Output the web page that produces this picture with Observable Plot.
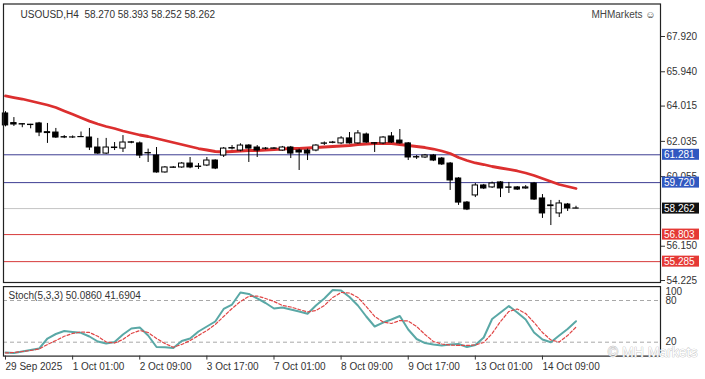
<!DOCTYPE html>
<html><head><meta charset="utf-8">
<script src="https://cdn.jsdelivr.net/npm/d3@7"></script>
<script src="https://cdn.jsdelivr.net/npm/@observablehq/plot@0.6"></script>
<style>
html,body{margin:0;padding:0;background:#fff;}
#wrap{position:relative;width:705px;height:379px;overflow:hidden;font-family:"Liberation Sans",Arial,sans-serif;}
#main,#stoch{position:absolute;left:0;}
#main{top:0;}
#stoch{top:283px;}
</style></head>
<body><div id="wrap"><div id="main"></div><div id="stoch"></div></div>
<script>
// ---- data ----
const headerText = "USOUSD,H4\u00a0 58.270 58.393 58.252 58.262";
const brandText = "MHMarkets \u263A";
const stochText = "Stoch(5,3,3) 50.0860 41.6904";
const watermarkText = "\u00A9 MH Markets";

const opens  = [63.60,63.06,63.00,62.97,63.04,62.55,62.53,62.27,62.25,62.28,62.25,61.69,61.35,61.66,61.63,61.98,61.92,61.38,61.24,60.29,60.55,60.57,60.79,60.60,60.68,60.96,61.24,61.63,61.52,61.80,61.69,61.63,61.62,61.52,61.69,61.52,61.52,61.52,61.90,61.95,61.92,62.20,61.92,62.42,61.93,61.92,62.31,62.08,61.92,61.15,61.13,61.24,61.07,60.79,59.95,58.60,59.00,59.56,59.45,59.73,59.45,59.45,59.39,59.67,58.83,58.44,57.99,58.49,58.270];
const highs  = [63.70,63.37,63.02,62.99,63.10,63.04,62.76,62.36,62.34,62.56,62.76,62.20,62.20,61.97,62.36,62.03,62.00,61.60,61.69,60.62,60.62,60.85,61.13,60.79,61.13,61.00,61.69,61.80,61.90,61.85,61.80,61.69,61.69,61.75,61.75,61.60,61.60,61.85,62.00,62.03,62.30,62.53,62.64,62.50,61.97,62.30,62.53,62.70,61.97,61.24,61.30,61.30,61.13,60.85,60.00,58.66,59.67,59.62,59.75,59.78,59.73,59.50,59.55,59.73,59.05,58.72,58.72,58.55,58.393];
const lows   = [62.85,62.87,62.80,62.74,62.30,61.92,62.20,62.19,62.20,62.26,61.52,61.30,61.30,61.52,61.41,61.90,61.07,60.85,60.25,60.25,60.52,60.52,60.50,60.46,60.62,60.45,61.13,61.55,61.45,60.85,61.13,61.55,61.58,61.48,61.07,60.40,60.96,61.45,61.80,61.90,61.85,61.88,61.88,61.92,61.41,61.85,61.92,61.88,60.96,61.02,61.07,60.90,60.68,59.28,58.44,58.15,58.88,59.33,59.39,58.88,59.11,59.28,59.35,58.72,57.71,57.31,57.76,58.10,58.252];
const closes = [62.93,62.98,62.98,62.95,62.53,62.50,62.25,62.25,62.26,62.27,61.69,61.35,61.69,61.69,61.97,61.96,61.24,61.36,60.29,60.57,60.57,60.79,60.57,60.62,60.96,60.51,61.63,61.66,61.80,61.63,61.52,61.62,61.64,61.69,61.35,61.41,61.35,61.80,61.92,61.97,62.20,61.92,62.48,61.97,61.91,62.25,61.97,61.92,61.13,61.13,61.24,60.96,60.74,59.84,58.60,58.21,59.56,59.39,59.67,59.39,59.43,59.33,59.45,58.77,57.99,58.40,58.55,58.27,58.262];
const maValues = [64.581,64.496,64.412,64.300,64.188,64.075,63.935,63.739,63.553,63.363,63.172,63.009,62.869,62.757,62.617,62.504,62.392,62.308,62.195,62.083,61.971,61.859,61.746,61.634,61.550,61.466,61.438,61.466,61.494,61.522,61.522,61.550,61.578,61.606,61.634,61.634,61.662,61.690,61.718,61.746,61.775,61.803,61.859,61.887,61.915,61.915,61.915,61.859,61.803,61.746,61.690,61.606,61.494,61.354,61.129,60.961,60.821,60.736,60.624,60.540,60.456,60.372,60.259,60.119,59.951,59.782,59.614,59.502,59.390];
const stochK = [5.2,4.5,6.6,8.8,10.9,25.3,31.8,36.1,34.7,33.5,28.2,21.0,18.1,20.3,31.1,39.7,41.2,29.6,13.1,12.8,11.7,21.7,25.3,35.4,42.6,49.8,67.8,74.2,91.5,89.4,82.9,76.4,68.5,69.9,67.1,64.2,60.9,72.8,82.9,95.1,94.4,85.0,72.8,57.0,42.6,48.3,52.7,57.7,38.3,24.6,18.8,16.7,15.3,16.7,17.4,13.1,16.0,26.8,53.4,62.7,72.1,62.7,52.7,34.0,23.9,20.0,29.6,39.0,50.1];
const stochD = [4.5,5.2,6.6,8.1,10.2,16.7,22.4,28.5,32.5,34.7,34.0,28.5,20.3,18.8,23.9,32.5,36.8,34.0,25.3,18.1,12.8,16.7,22.4,29.6,36.8,45.5,57.0,68.5,78.6,85.8,86.5,82.9,78.6,72.8,70.6,67.1,63.5,65.6,72.8,84.3,91.5,90.8,84.3,71.4,57.0,49.1,46.9,51.2,50.5,42.6,31.1,21.0,17.4,16.0,15.3,15.3,16.0,19.6,32.5,49.8,64.2,67.8,61.3,48.3,34.0,23.2,20.3,29.6,41.7];

const timeTickIndex = [0,8,16,24,32,40,48,56,64];
const timeTickLabels = ["29 Sep 2025","1 Oct 01:00","2 Oct 09:00","3 Oct 17:00","7 Oct 01:00","8 Oct 09:00","9 Oct 17:00","13 Oct 01:00","14 Oct 09:00"];
const priceTicks = [67.920,65.940,64.015,62.035,60.055,56.150,54.225];
const levelValues = [61.281,59.720,58.262,56.803,55.285];
const stochLevels = [80,20];
const stochTickLabels = [100,80,20];

// ---- styles ----
const levelLine = ["#3d3d92","#3d3d92","#c4c4c4","#d63a3a","#d63a3a"];
const levelBox  = ["#3158c0","#3158c0","#111111","#e53935","#e53935"];
const FONT = "'Liberation Sans', Arial, sans-serif";

const idx = d3.range(closes.length);
const candles = idx.map(i => ({i, o: opens[i], h: highs[i], l: lows[i], c: closes[i]}));
const levels = levelValues.map((v, k) => ({v, k}));
const xDomain = [-0.24, 78.07];

const main = Plot.plot({
  width: 705, height: 286,
  marginLeft: 3, marginRight: 45, marginTop: 3.5, marginBottom: 4,
  style: {fontFamily: FONT, fontSize: "10px", background: "transparent", color: "#333", overflow: "visible"},
  x: {domain: xDomain, axis: null},
  y: {domain: [54.114, 69.744], axis: null},
  marks: [
    ...levels.map(L => Plot.ruleY([L.v], {stroke: levelLine[L.k], strokeWidth: 1})),
    Plot.line(idx, {x: i => i, y: i => maValues[i], stroke: "#dc2f2f", strokeWidth: 2.8}),
    Plot.ruleX(candles, {x: "i", y1: "l", y2: "h", stroke: "#000", strokeWidth: 1}),
    Plot.rect(candles.filter(d => d.c >= d.o), {x1: d => d.i - 0.32, x2: d => d.i + 0.32, y1: "o", y2: "c", fill: "#fff", stroke: "#000", strokeWidth: 1}),
    Plot.rect(candles.filter(d => d.c < d.o), {x1: d => d.i - 0.32, x2: d => d.i + 0.32, y1: "o", y2: "c", fill: "#000", stroke: "#000", strokeWidth: 1}),
    Plot.frame({stroke: "#222", strokeWidth: 1.2}),
    Plot.axisY({anchor: "right", ticks: priceTicks, tickFormat: d3.format(".3f"), tickSize: 4, tickPadding: 2, fontSize: 10, stroke: "#333", fill: "#333", label: null}),
    Plot.text([headerText], {frameAnchor: "top-left", dx: 17, dy: 10.5, lineAnchor: "middle", text: d => d, textAnchor: "start", fontSize: 10, fill: "#333"}),
    Plot.text([brandText], {frameAnchor: "top-right", dx: -5, dy: 10.5, lineAnchor: "middle", text: d => d, textAnchor: "end", fontSize: 10, fill: "#444"})
  ]
});
document.getElementById("main").appendChild(main);

// coloured price labels on the right axis, positioned through Plot's y scale
const ys = main.scale("y");
const gLab = d3.select(main).append("g").attr("text-anchor", "start");
levels.forEach(L => {
  const y = ys.apply(L.v);
  gLab.append("rect").attr("x", 662).attr("y", y - 5.5).attr("width", 37).attr("height", 11).attr("fill", levelBox[L.k]);
  gLab.append("text").attr("x", 664).attr("y", y).attr("dy", "0.35em").attr("fill", "#fff")
    .attr("text-anchor", "start").attr("font-size", 10).attr("font-family", FONT).text(d3.format(".3f")(L.v));
});

const stoch = Plot.plot({
  width: 705, height: 96,
  marginLeft: 3, marginRight: 45, marginTop: 3.1, marginBottom: 23.4,
  style: {fontFamily: FONT, fontSize: "10px", background: "transparent", color: "#333", overflow: "visible"},
  x: {domain: xDomain, axis: null},
  y: {domain: [0, 100], axis: null},
  marks: [
    Plot.ruleY(stochLevels, {stroke: "#a8a8a8", strokeDasharray: "4,3"}),
    Plot.line(idx, {x: i => i, y: i => stochK[i], stroke: "#5aa8a6", strokeWidth: 2}),
    Plot.line(idx, {x: i => i, y: i => stochD[i], stroke: "#e04646", strokeWidth: 1.2, strokeDasharray: "3,2"}),
    Plot.frame({stroke: "#222", strokeWidth: 1.2}),
    Plot.axisX({ticks: timeTickIndex, tickFormat: i => timeTickLabels[timeTickIndex.indexOf(i)], tickSize: 4, tickPadding: 3, textAnchor: "start", fontSize: 10, stroke: "#333", fill: "#333", label: null}),
    Plot.text(stochTickLabels.slice(1), {y: d => d, frameAnchor: "right", dx: 5, textAnchor: "start", text: d => String(d), fontSize: 10, fill: "#333"}),
    Plot.text(stochTickLabels.slice(0, 1), {y: d => d, frameAnchor: "right", dx: 5, dy: 5.5, textAnchor: "start", text: d => String(d), fontSize: 10, fill: "#333"}),
    Plot.text([stochText], {frameAnchor: "top-left", dx: 5, dy: 9, lineAnchor: "middle", text: d => d, textAnchor: "start", fontSize: 10, fill: "#333"}),
    Plot.text([watermarkText], {frameAnchor: "bottom-right", dx: 37, dy: -4, lineAnchor: "middle", text: d => d, textAnchor: "end", fontSize: 14, fill: "#fff", stroke: "#b4b4b4", strokeWidth: 0.7})
  ]
});
document.getElementById("stoch").appendChild(stoch);
</script>
</body></html>
